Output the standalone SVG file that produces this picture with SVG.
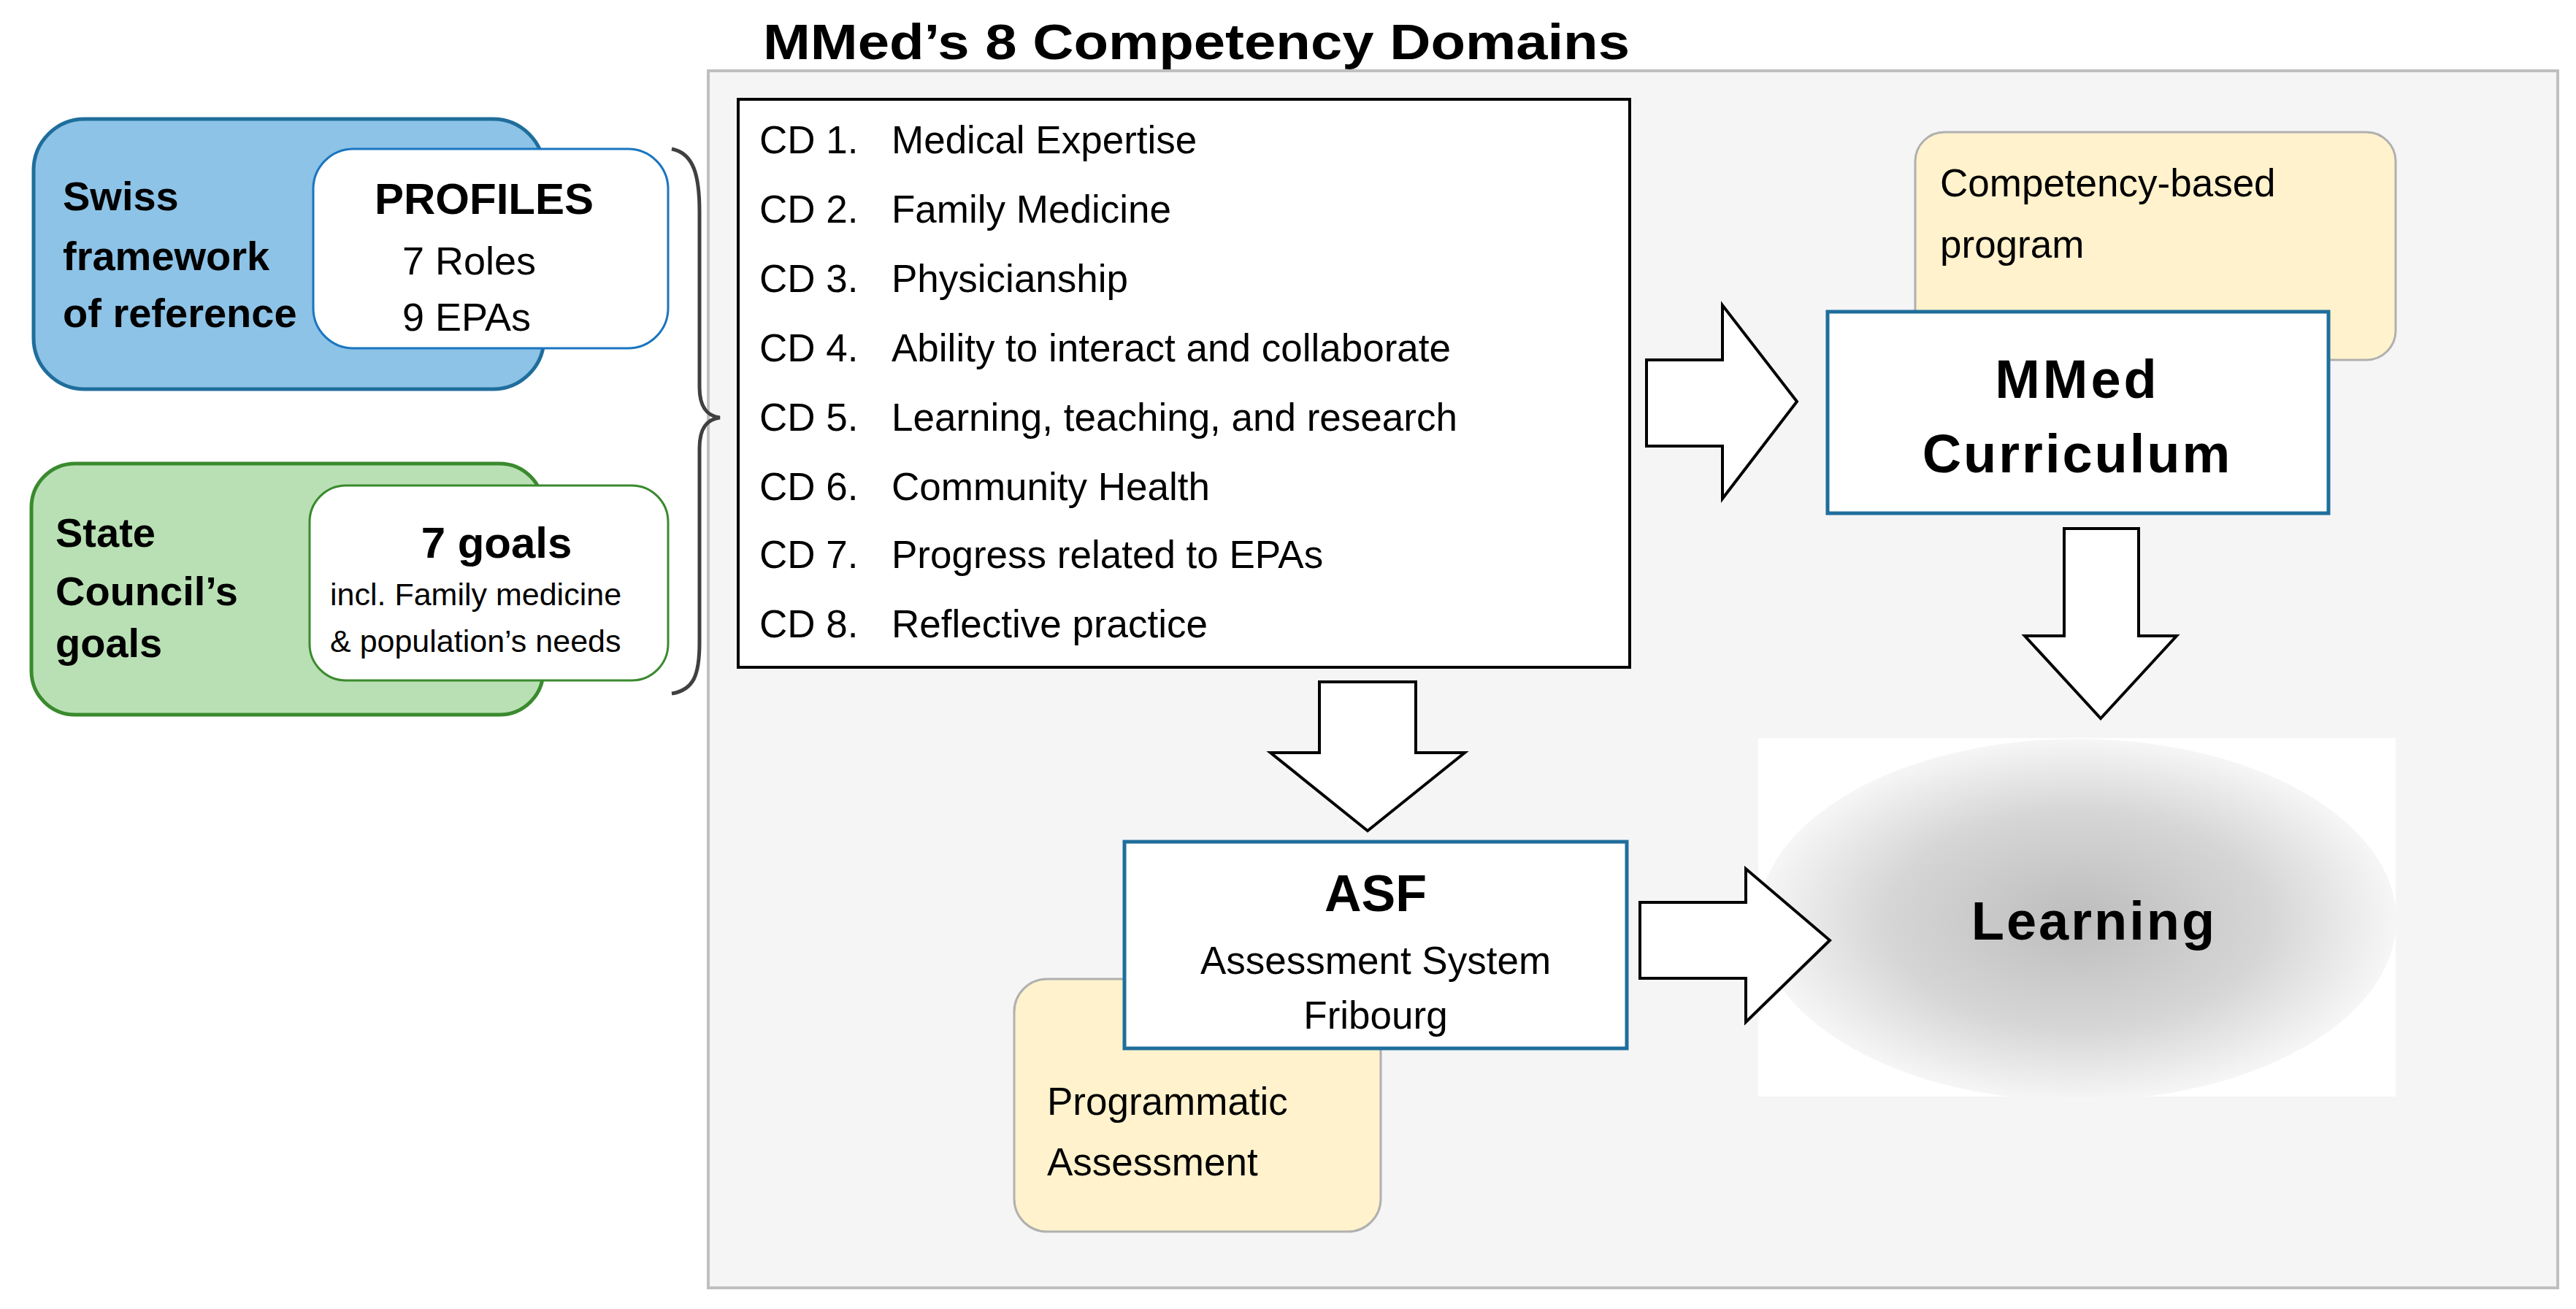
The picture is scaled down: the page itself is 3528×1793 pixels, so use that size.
<svg xmlns="http://www.w3.org/2000/svg" width="3528" height="1793" viewBox="0 0 3528 1793">
<style>
text{font-family:"Liberation Sans",Arial,sans-serif;fill:#000}
.b{font-weight:bold}
.cd{font-size:53px}
.arr{fill:#fff;stroke:#000;stroke-width:4;stroke-linejoin:miter}
</style>
<defs>
<radialGradient id="lg" cx="50%" cy="50%" r="50%">
<stop offset="0" stop-color="#bdbdbd"/><stop offset="0.6" stop-color="#d6d6d6"/><stop offset="1" stop-color="#f6f6f6"/>
</radialGradient>
</defs>
<rect width="3528" height="1793" fill="#fff"/>
<g id="panel">
<rect x="970" y="97" width="2533" height="1667" fill="#f5f5f5" stroke="#bfbfbf" stroke-width="4"/>
<text class="b" x="1045" y="81" font-size="68" textLength="1187" lengthAdjust="spacingAndGlyphs">MMed’s 8 Competency Domains</text>
</g>
<g id="swiss">
<rect x="46" y="163" width="699" height="370" rx="70" fill="#8dc3e6" stroke="#1f6e9c" stroke-width="5"/>
<text class="b" font-size="56" x="86" y="288">Swiss</text>
<text class="b" font-size="56" x="86" y="370">framework</text>
<text class="b" font-size="56" x="86" y="448">of reference</text>
<rect x="429" y="204" width="486" height="273" rx="55" fill="#fff" stroke="#1a75c0" stroke-width="3"/>
<text class="b" font-size="60" x="663" y="293" text-anchor="middle">PROFILES</text>
<text font-size="54" x="551" y="376">7 Roles</text>
<text font-size="54" x="551" y="453">9 EPAs</text>
</g>
<g id="state">
<rect x="43" y="635" width="701" height="344" rx="60" fill="#b9e0b4" stroke="#3a8a2e" stroke-width="5"/>
<text class="b" font-size="56" x="76" y="749">State</text>
<text class="b" font-size="56" x="76" y="829">Council’s</text>
<text class="b" font-size="56" x="76" y="900">goals</text>
<rect x="424" y="665" width="491" height="267" rx="50" fill="#fff" stroke="#3a8a2e" stroke-width="3"/>
<text class="b" font-size="60" x="680" y="764" text-anchor="middle">7 goals</text>
<text font-size="43" x="452" y="829">incl. Family medicine</text>
<text font-size="43" x="452" y="893">&amp; population’s needs</text>
</g>
<g id="cd">
<rect x="1011" y="136" width="1221" height="778" fill="#fff" stroke="#000" stroke-width="4"/>
<g class="cd">
<text class="cd" x="1040" y="210">CD 1.</text><text class="cd" x="1221" y="210">Medical Expertise</text>
<text class="cd" x="1040" y="305">CD 2.</text><text class="cd" x="1221" y="305">Family Medicine</text>
<text class="cd" x="1040" y="400">CD 3.</text><text class="cd" x="1221" y="400">Physicianship</text>
<text class="cd" x="1040" y="495">CD 4.</text><text class="cd" x="1221" y="495">Ability to interact and collaborate</text>
<text class="cd" x="1040" y="590">CD 5.</text><text class="cd" x="1221" y="590">Learning, teaching, and research</text>
<text class="cd" x="1040" y="685">CD 6.</text><text class="cd" x="1221" y="685">Community Health</text>
<text class="cd" x="1040" y="778">CD 7.</text><text class="cd" x="1221" y="778">Progress related to EPAs</text>
<text class="cd" x="1040" y="873">CD 8.</text><text class="cd" x="1221" y="873">Reflective practice</text>
</g>
</g>
<g id="cbp">
<rect x="2623" y="181" width="658" height="312" rx="40" fill="#fff2cc" stroke="#b0b0b0" stroke-width="3"/>
<text class="cd" x="2657" y="269">Competency-based</text>
<text class="cd" x="2657" y="353">program</text>
</g>
<g id="mmed">
<rect x="2503" y="427" width="686" height="276" fill="#fff" stroke="#1f6e9c" stroke-width="5"/>
<text class="b" font-size="74" x="2845" y="545" text-anchor="middle" letter-spacing="4">MMed</text>
<text class="b" font-size="74" x="2845" y="647" text-anchor="middle" letter-spacing="3">Curriculum</text>
</g>
<g id="pa">
<rect x="1389" y="1341" width="502" height="346" rx="45" fill="#fff2cc" stroke="#b0b0b0" stroke-width="3"/>
<text class="cd" x="1434" y="1527">Programmatic</text>
<text class="cd" x="1434" y="1610">Assessment</text>
</g>
<g id="asf">
<rect x="1540" y="1153" width="688" height="283" fill="#fff" stroke="#1f6e9c" stroke-width="5"/>
<text class="b" font-size="70" x="1884" y="1248" text-anchor="middle">ASF</text>
<text class="cd" x="1884" y="1334" text-anchor="middle">Assessment System</text>
<text class="cd" x="1884" y="1409" text-anchor="middle">Fribourg</text>
</g>
<g id="learning">
<rect x="2408" y="1011" width="873" height="491" fill="#fff"/>
<ellipse cx="2845" cy="1260" rx="437" ry="248" fill="url(#lg)"/>
<text class="b" font-size="74" x="2868" y="1287" text-anchor="middle" letter-spacing="3">Learning</text>
</g>
<g id="connectors">
<path d="M920,204 C950,210 958,240 958,290 L958,530 C958,560 970,570 986,572 C970,574 958,584 958,614 L958,880 C958,925 950,945 920,950" fill="none" stroke="#404040" stroke-width="5"/>
<polygon class="arr" points="2255,493 2359,493 2359,418 2461,550 2359,683 2359,611 2255,611"/>
<polygon class="arr" points="2827,724 2929,724 2929,871 2981,871 2877,984 2773,871 2827,871"/>
<polygon class="arr" points="1807,934 1939,934 1939,1031 2006,1031 1873,1138 1740,1031 1807,1031"/>
<polygon class="arr" points="2246,1236 2391,1236 2391,1190 2506,1288 2391,1400 2391,1340 2246,1340"/>
</g>
</svg>
